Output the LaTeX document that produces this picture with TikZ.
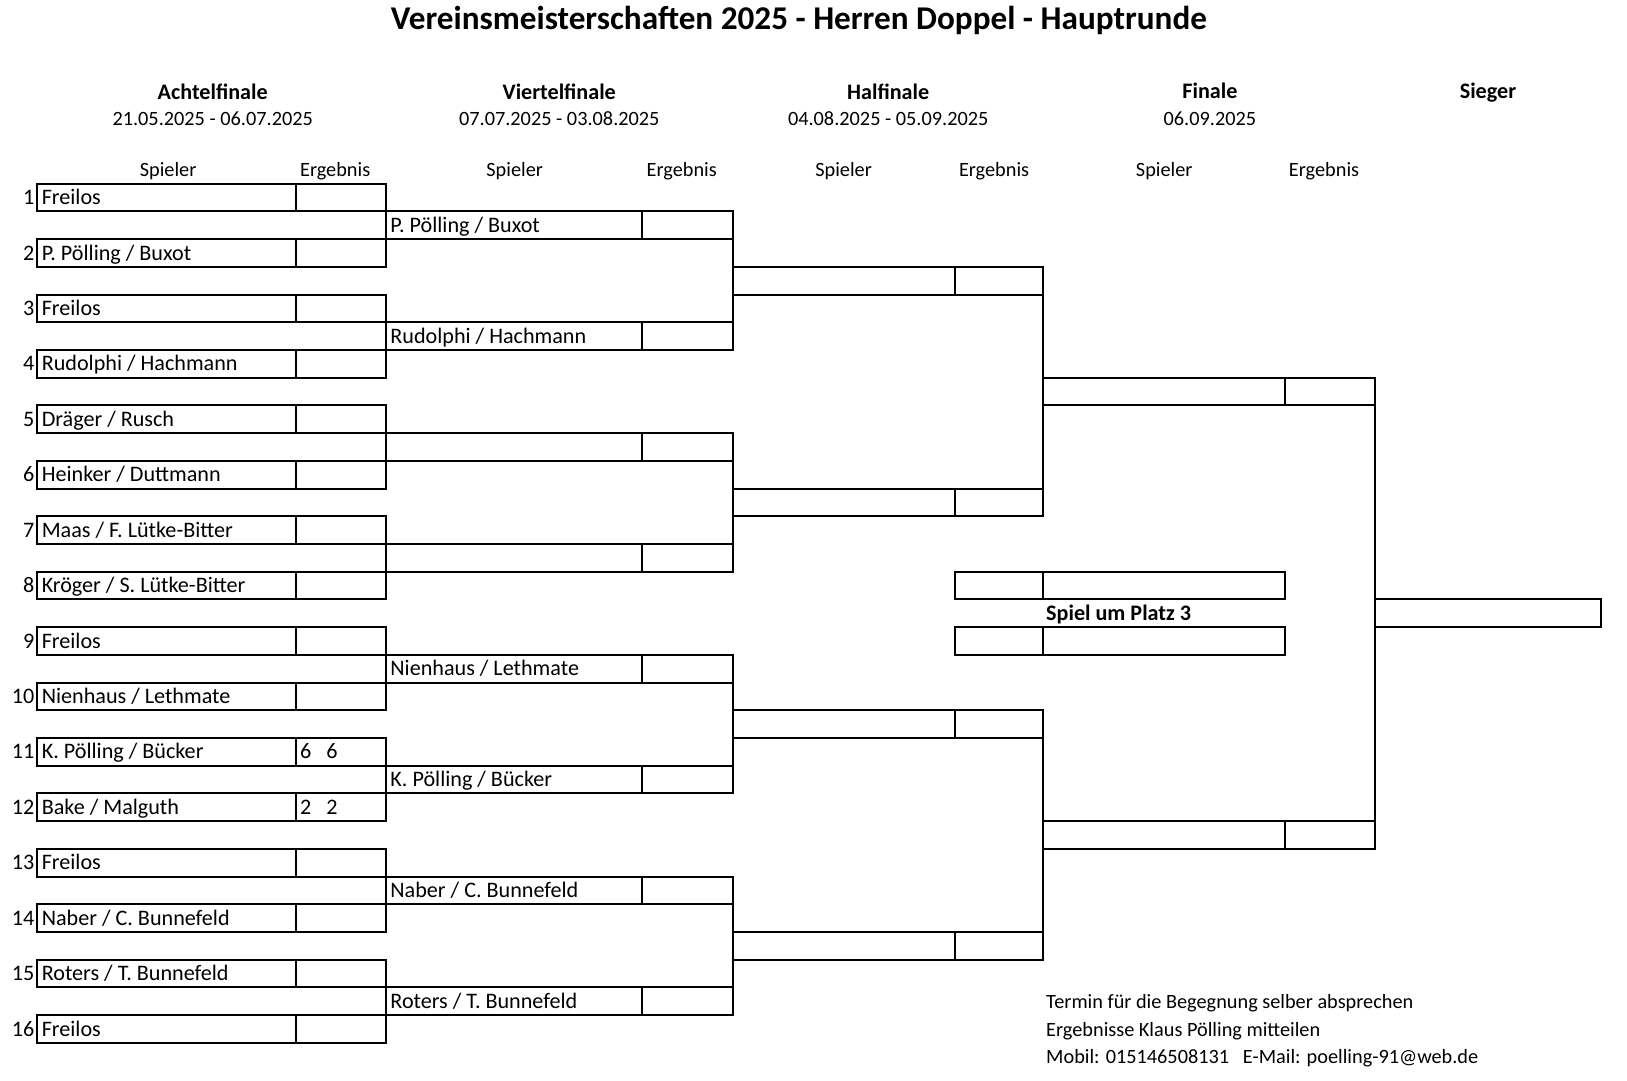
\documentclass[tikz,border=0pt]{standalone}
\usepackage{fontspec}
\setmainfont{Carlito}
\usetikzlibrary{positioning}
\newcommand\unitpx{0.5625pt}
\newcommand\rowh{26.71}
\tikzset{
  cell/.style={draw, line width=1.1pt, outer sep=0pt, inner sep=0pt, minimum width=#1*\unitpx, minimum height=\rowh*\unitpx, anchor=north west},
  link/.style={line width=1.1pt, line cap=rect},
  txt/.style={anchor=west, inner sep=2.2pt, font=\fontsize{12}{14}\selectfont, text height=7.7pt, text depth=0pt},
  num/.style={txt, anchor=east, inner sep=1.5pt},
  note/.style={txt, font=\fontsize{11}{13}\selectfont, text height=7.1pt},
  head/.style={font=\fontsize{12}{14}\selectfont\bfseries},
  sub/.style={font=\fontsize{11}{13}\selectfont}
}
\begin{document}
\begin{tikzpicture}[x=\unitpx, y=-\unitpx]
\useasboundingbox (0,0) rectangle (1568,1041);
\node[font=\fontsize{18}{21}\selectfont\bfseries] (title) at (770,20) {Vereinsmeisterschaften 2025 - Herren Doppel - Hauptrunde};
\foreach \n/\t/\d/\x in {achtel/Achtelfinale/21.05.2025 - 06.07.2025/205, viertel/Viertelfinale/07.07.2025 - 03.08.2025/539, halb/Halfinale/04.08.2025 - 05.09.2025/856, final/Finale/06.09.2025/1166}{
  \node[head] (\n) at (\x,88) {\t};
  \node[sub] (\n-date) at (\x,114) {\d};
}
\node[head] (sieger) at (1434,89) {Sieger};
\foreach \x/\y [count=\i] in {162/323, 496/657, 813/958, 1122/1276}{
  \node[sub] (sp\i) at (\x,165) {Spieler};
  \node[sub] (er\i) at (\y,165) {Ergebnis};
}
\foreach \n [count=\i] in {Freilos, P. Pölling / Buxot, Freilos, Rudolphi / Hachmann, Dräger / Rusch, Heinker / Duttmann, Maas / F. Lütke-Bitter, Kröger / S. Lütke-Bitter, Freilos, Nienhaus / Lethmate, K. Pölling / Bücker, Bake / Malguth, Freilos, Naber / C. Bunnefeld, Roters / T. Bunnefeld, Freilos}{
  \node[cell=249] (a\i) at (36,{177+2*(\i-1)*\rowh}) {};
  \node[cell=87, right=0pt of a\i] (ar\i) {};
  \node[txt] (ta\i) at (a\i.west) {\n};
  \node[num] (n\i) at (a\i.west) {\i};
}
\node[txt] (s11) at (ar11.west) {6~~~6};
\node[txt] (s12) at (ar12.west) {2~~~2};
\foreach \n [count=\i] in {P. Pölling / Buxot, Rudolphi / Hachmann, {}, {}, Nienhaus / Lethmate, K. Pölling / Bücker, Naber / C. Bunnefeld, Roters / T. Bunnefeld}{
  \node[cell=247] (b\i) at (372,{177+(4*\i-3)*\rowh}) {};
  \node[cell=87, right=0pt of b\i] (br\i) {};
  \node[txt] (tb\i) at (b\i.west) {\n};
}
\foreach \i in {1,...,4}{
  \node[cell=214] (c\i) at (706,{177+(8*\i-5)*\rowh}) {};
  \node[cell=85, right=0pt of c\i] (cr\i) {};
}
\foreach \i in {1,2}{
  \node[cell=233] (d\i) at (1005,{177+(16*\i-9)*\rowh}) {};
  \node[cell=87, right=0pt of d\i] (dr\i) {};
}
\node[cell=218] (win) at (1325,{177+15*\rowh}) {};
\node[cell=85] (p1) at (920,{177+14*\rowh}) {};
\node[cell=233, right=0pt of p1] (pp1) {};
\node[cell=85] (p2) at (920,{177+16*\rowh}) {};
\node[cell=233, right=0pt of p2] (pp2) {};
\node[txt, font=\fontsize{12}{14}\selectfont\bfseries] (platz) at (1004,{177+15.5*\rowh}) {Spiel um Platz 3};
\foreach \i/\j in {1/2, 3/4, 5/6, 7/8}
  \draw[link] (br\i.south east) -- (br\j.north east);
\foreach \i/\j in {1/2, 3/4}
  \draw[link] (cr\i.south east) -- (cr\j.north east);
\draw[link] (dr1.south east) -- (dr2.north east);
\node[note] (note1) at (1004,966) {Termin für die Begegnung selber absprechen};
\node[note] (note2) at (1004,993) {Ergebnisse Klaus Pölling mitteilen};
\node[note] (note3) at (1004,1019) {Mobil: 015146508131~~~E-Mail: poelling-91@web.de};
\end{tikzpicture}
\end{document}
